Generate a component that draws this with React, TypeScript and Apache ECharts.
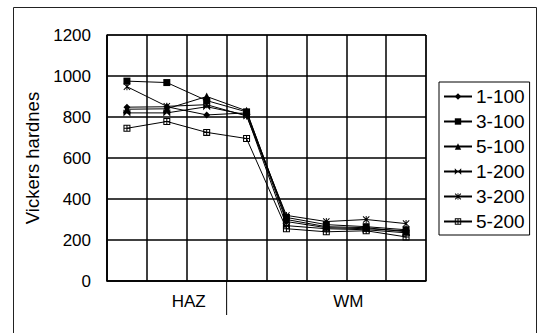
import React, { useEffect, useRef } from "react";
import * as echarts from "echarts";

const categories = ["1", "2", "3", "4", "5", "6", "7", "8"];
const groupLabels = ["HAZ", "WM"];
const seriesNames = ["1-100", "3-100", "5-100", "1-200", "3-200", "5-200"];
const s1_100 = [848, 850, 810, 820, 290, 260, 255, 245];
const s3_100 = [975, 968, 880, 825, 310, 275, 265, 250];
const s5_100 = [838, 840, 900, 830, 300, 265, 260, 240];
const s1_200 = [820, 820, 850, 810, 270, 255, 250, 235];
const s3_200 = [948, 852, 860, 805, 320, 290, 300, 280];
const s5_200 = [745, 778, 725, 695, 255, 240, 245, 215];
const yTicks = { min: 0, max: 1200, interval: 200 };
const hazCount = 3;

const symbols = [
  "diamond",
  "rect",
  "triangle",
  "path://M0,0L5,5L0,10ZM10,0L5,5L10,10Z",
  "path://M4.3,0H5.7V10H4.3Z M0,1L1,0L10,9L9,10Z M9,0L10,1L1,10L0,9Z",
  "path://M0,0H10V10H0Z M1.5,1.5V4.25H4.25V1.5Z M5.75,1.5V4.25H8.5V1.5Z M1.5,5.75V8.5H4.25V5.75Z M5.75,5.75V8.5H8.5V5.75Z",
];
const values = [s1_100, s3_100, s5_100, s1_200, s3_200, s5_200];

const FONT = "Liberation Sans";
const G = { left: 107, top: 35, width: 319, height: 246 };

export default function App() {
  const ref = useRef<HTMLDivElement>(null);
  useEffect(() => {
    const chart = echarts.init(ref.current!, null, { renderer: "svg" });
    const sepX = G.left + (G.width * hazCount) / categories.length;
    chart.setOption({
      animation: false,
      backgroundColor: "#fff",
      textStyle: { fontFamily: FONT, color: "#000" },
      grid: { left: G.left, top: G.top, width: G.width, height: G.height, show: true, borderColor: "#000", borderWidth: 1 },
      legend: {
        orient: "vertical",
        left: 439,
        top: 82,
        itemWidth: 28,
        itemHeight: 8,
        itemGap: 6,
        padding: [5, 5, 4, 4],
        borderColor: "#000",
        borderWidth: 1,
        textStyle: { fontFamily: FONT, fontSize: 19, color: "#000", padding: [0, 0, 0, -1] },
        data: seriesNames,
      },
      xAxis: [
        {
          type: "category",
          data: categories,
          boundaryGap: true,
          axisLine: { show: true, lineStyle: { color: "#000", width: 1.5 } },
          axisTick: { show: false },
          axisLabel: { show: false },
          splitLine: { show: true, interval: 0, lineStyle: { color: "#000", width: 1.5 } },
        },
        {
          type: "category",
          data: groupLabels,
          position: "bottom",
          boundaryGap: true,
          axisLine: { show: false },
          axisTick: { show: false },
          axisLabel: { show: true, margin: 12, fontSize: 17, fontFamily: FONT, color: "#000", padding: [0, 0, 0, 4] },
          splitLine: { show: false },
        },
      ],
      yAxis: {
        type: "value",
        min: yTicks.min,
        max: yTicks.max,
        interval: yTicks.interval,
        name: "Vickers hardnes",
        nameLocation: "middle",
        nameGap: 60,
        nameTextStyle: { fontSize: 18.5, fontFamily: FONT, color: "#000" },
        axisLine: { show: true, lineStyle: { color: "#000", width: 1.5 } },
        axisTick: { show: false },
        axisLabel: { margin: 16, fontSize: 17, fontFamily: FONT, color: "#000", formatter: (v: number) => String(v) },
        splitLine: { show: true, lineStyle: { color: "#000", width: 1.5 } },
      },
      graphic: [
        { type: "rect", shape: { x: 13.5, y: 7.5, width: 523, height: 340 }, style: { fill: "none", stroke: "#222", lineWidth: 1 }, silent: true },
        { type: "line", shape: { x1: sepX, y1: G.top + G.height, x2: sepX, y2: 315 }, style: { stroke: "#000", lineWidth: 1 } },
      ],
      series: seriesNames.map((name, i) => ({
        name,
        type: "line",
        xAxisIndex: 0,
        data: values[i],
        symbol: symbols[i],
        symbolSize: i === 2 ? 8 : 7,
        showSymbol: true,
        lineStyle: { color: "#000", width: 1 },
        itemStyle: { color: "#000", borderWidth: 0 },
      })),
    });
    return () => chart.dispose();
  }, []);
  return <div ref={ref} style={{ position: "fixed", left: 0, top: 0, width: 538, height: 333 }} />;
}
